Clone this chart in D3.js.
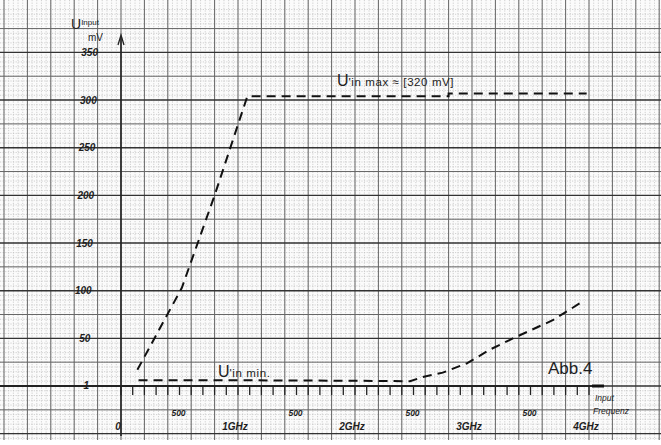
<!DOCTYPE html>
<html><head><meta charset="utf-8">
<script src="https://cdn.jsdelivr.net/npm/d3@7"></script>
<style>
html,body{margin:0;padding:0;background:#fff;}
svg{display:block;}
text{font-family:"Liberation Sans","DejaVu Sans",sans-serif;fill:#1e1e1e;}
</style></head><body>
<svg id="c" width="661" height="445"></svg>
<script>
// ---- data ----
const freqMax = [0.14, 0.33, 0.52, 0.80, 1.08, 2.80, 2.80, 3.98];   // GHz
const voltMax = [17, 60, 103, 200, 304, 304, 307, 307];              // mV
const freqMin = [0.15, 1.0, 2.0, 2.47, 2.58, 2.75, 2.96, 3.15, 3.35, 3.69, 3.95];
const voltMin = [6, 6, 5.5, 5, 9.5, 14, 24, 38, 50, 69, 89];
const yTicks = [1, 50, 100, 150, 200, 250, 300, 350];
const yTickLabels = ["1", "50", "100", "150", "200", "250", "300", "350"];
const xTicks = [0, 0.5, 1, 1.5, 2, 2.5, 3, 3.5, 4];
const xTickLabels = ["0", "500", "1GHz", "500", "2GHz", "500", "3GHz", "500", "4GHz"];

const W = 661, H = 445;
const svg = d3.select("#c");
const x = d3.scaleLinear().domain([0, 4]).range([121, 589]);
const y = d3.scaleLinear().domain([0, 350]).range([386, 52.4]);

svg.append("rect").attr("width", W).attr("height", 440).attr("fill", "#fbfbfb");

const g = svg.append("g");
// fine grid (1 mm)
const fx = d3.range(-1.04, 4.65, 0.04), fy = d3.range(-55, 400, 5);
g.selectAll(".fv").data(fx).join("line").attr("x1", d => x(d)).attr("x2", d => x(d))
  .attr("y1", 0).attr("y2", 440).attr("stroke", "#bdbdbd").attr("stroke-width", 0.7)
  .attr("stroke-dasharray", "1.2,1.4");
g.selectAll(".fh").data(fy).join("line").attr("y1", d => y(d)).attr("y2", d => y(d))
  .attr("x1", 0).attr("x2", W).attr("stroke", "#bdbdbd").attr("stroke-width", 0.7)
  .attr("stroke-dasharray", "1.2,1.4");
// 5 mm grid
const mx = d3.range(-1.0, 4.65, 0.2), my = d3.range(-50, 400, 25);
g.selectAll(".mv").data(mx).join("line").attr("x1", d => x(d)).attr("x2", d => x(d))
  .attr("y1", 0).attr("y2", 440).attr("stroke", "#666").attr("stroke-width", 1);
g.selectAll(".mh").data(my).join("line").attr("y1", d => y(d)).attr("y2", d => y(d))
  .attr("x1", 0).attr("x2", W).attr("stroke", d => d % 50 === 0 ? "#333" : "#666")
  .attr("stroke-width", d => d % 50 === 0 ? 1.4 : 1);

// axes
g.append("line").attr("x1", x(0)).attr("x2", x(0)).attr("y1", 36).attr("y2", 436)
  .attr("stroke", "#222").attr("stroke-width", 1.6);
g.append("path").attr("d", `M${x(0)-3},${45} L${x(0)},${35} L${x(0)+3},${45}`)
  .attr("fill", "none").attr("stroke", "#222").attr("stroke-width", 1.3);
g.append("line").attr("x1", 0).attr("x2", 604).attr("y1", y(0)).attr("y2", y(0))
  .attr("stroke", "#222").attr("stroke-width", 1.8);
g.append("line").attr("x1", 592).attr("x2", 604).attr("y1", y(0)).attr("y2", y(0))
  .attr("stroke", "#111").attr("stroke-width", 3);

// x minor ticks
g.selectAll(".xt").data(d3.range(0, 4.01, 0.1)).join("line")
  .attr("x1", d => x(d)).attr("x2", d => x(d)).attr("y1", y(0)).attr("y2", y(0) + 9)
  .attr("stroke", "#222").attr("stroke-width", 1.3);

// y tick labels (handwritten, drifting to the left)
g.selectAll(".yl").data(yTicks).join("text")
  .attr("x", d => 98 - (350 - d) / 350 * 9).attr("y", d => y(d) + 3.5)
  .attr("text-anchor", "end").attr("font-size", 10).attr("font-style", "italic")
  .attr("font-weight", "bold")
  .text((d, i) => yTickLabels[i]);

// x tick labels
g.selectAll(".xl").data(xTicks).join("text")
  .attr("x", (d, i) => x(d) - (i % 2 ? 1 : 3)).attr("y", (d, i) => i % 2 ? 416 : 430)
  .attr("text-anchor", "middle").attr("font-size", (d, i) => i % 2 ? 8.5 : 10)
  .attr("font-style", "italic").attr("font-weight", "bold")
  .text((d, i) => xTickLabels[i]);

// axis titles
const t1 = g.append("text").attr("x", 71).attr("y", 29);
t1.append("tspan").attr("font-size", 14).text("U");
t1.append("tspan").attr("font-size", 8).attr("dy", -4).text("Input");
g.append("text").attr("x", 88).attr("y", 41).attr("font-size", 10).text("mV");
g.append("text").attr("x", 595).attr("y", 401).attr("font-size", 8.5).attr("font-style", "italic").text("Input");
g.append("text").attr("x", 593).attr("y", 414).attr("font-size", 8.5).attr("font-style", "italic").text("Frequenz");

// curves
const line = d3.line().x(d => x(d[0])).y(d => y(d[1]));
const maxPts = freqMax.map((f, i) => [f, voltMax[i]]);
const minPts = freqMin.map((f, i) => [f, voltMin[i]]);
g.append("path").attr("d", line(maxPts)).attr("fill", "none").attr("stroke", "#111")
  .attr("stroke-width", 2).attr("stroke-dasharray", "9,6");
g.append("path").attr("d", line(minPts)).attr("fill", "none").attr("stroke", "#111")
  .attr("stroke-width", 2).attr("stroke-dasharray", "9,6");

// curve labels
const lm = g.append("text").attr("x", 337).attr("y", 86);
lm.append("tspan").attr("font-size", 16).text("U");
lm.append("tspan").attr("font-size", 11.5).attr("letter-spacing", 0.6).text("'in  max  ≈ [320 mV]");
const ln = g.append("text").attr("x", 218).attr("y", 377);
ln.append("tspan").attr("font-size", 16).text("U");
ln.append("tspan").attr("font-size", 11.5).attr("letter-spacing", 0.6).text("'in  min.");

g.append("text").attr("x", 548).attr("y", 374).attr("font-size", 17).attr("fill", "#2a2a2a").text("Abb.4");

svg.append("rect").attr("y", 440).attr("width", W).attr("height", 5).attr("fill", "#fff");
</script>
</body></html>
